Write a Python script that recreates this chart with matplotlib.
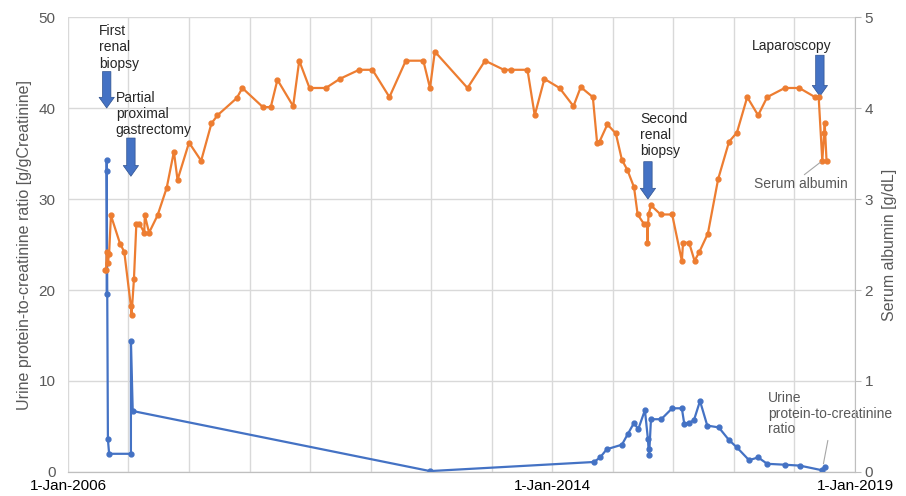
import matplotlib
matplotlib.use("Agg")
import matplotlib.pyplot as plt

# Urine protein-to-creatinine ratio [g/gCreatinine], x in decimal years
upcr_t = [2006.64, 2006.64, 2006.64, 2006.66, 2006.68, 2007.04, 2007.04, 2007.07,
          2011.98, 2014.69, 2014.79, 2014.90, 2015.15, 2015.25, 2015.35, 2015.42,
          2015.53, 2015.58, 2015.59, 2015.60, 2015.63, 2015.80, 2015.98, 2016.14,
          2016.18, 2016.26, 2016.34, 2016.44, 2016.56, 2016.75, 2016.92, 2017.05,
          2017.25, 2017.40, 2017.55, 2017.84, 2018.09, 2018.45, 2018.50]
upcr = [19.6, 34.3, 33.1, 3.6, 2.0, 2.0, 14.4, 6.7,
        0.1, 1.1, 1.6, 2.5, 3.0, 4.2, 5.4, 4.7,
        6.8, 3.6, 2.5, 1.9, 5.8, 5.8, 7.0, 7.0,
        5.3, 5.4, 5.7, 7.8, 5.1, 4.9, 3.5, 2.7,
        1.3, 1.6, 0.9, 0.8, 0.7, 0.2, 0.6]

# Serum albumin [g/dL]
alb_t = [2006.61, 2006.63, 2006.64, 2006.66, 2006.68, 2006.71, 2006.86, 2006.93,
         2007.04, 2007.05, 2007.09, 2007.13, 2007.18, 2007.26, 2007.27, 2007.34,
         2007.48, 2007.63, 2007.75, 2007.81, 2008.00, 2008.20, 2008.37, 2008.47,
         2008.79, 2008.88, 2009.22, 2009.35, 2009.46, 2009.72, 2009.82, 2009.99,
         2010.26, 2010.49, 2010.81, 2011.03, 2011.31, 2011.58, 2011.87, 2011.98,
         2012.06, 2012.60, 2012.89, 2013.20, 2013.31, 2013.59, 2013.71, 2013.87,
         2014.12, 2014.35, 2014.47, 2014.67, 2014.74, 2014.78, 2014.91, 2015.05,
         2015.15, 2015.24, 2015.35, 2015.41, 2015.51, 2015.57, 2015.57, 2015.59,
         2015.63, 2015.79, 2015.98, 2016.14, 2016.16, 2016.26, 2016.35, 2016.43,
         2016.57, 2016.74, 2016.92, 2017.05, 2017.22, 2017.40, 2017.55, 2017.84,
         2018.08, 2018.34, 2018.40, 2018.46, 2018.49, 2018.50, 2018.53]
albumin = [2.22, 2.22, 2.42, 2.30, 2.40, 2.82, 2.51, 2.42,
           1.82, 1.72, 2.12, 2.73, 2.73, 2.63, 2.82, 2.63,
           2.82, 3.12, 3.52, 3.21, 3.62, 3.42, 3.83, 3.92,
           4.11, 4.22, 4.01, 4.01, 4.31, 4.02, 4.52, 4.22,
           4.22, 4.32, 4.42, 4.42, 4.12, 4.52, 4.52, 4.22,
           4.62, 4.22, 4.52, 4.42, 4.42, 4.42, 3.92, 4.32,
           4.22, 4.02, 4.23, 4.12, 3.62, 3.63, 3.82, 3.72,
           3.43, 3.32, 3.13, 2.83, 2.73, 2.73, 2.52, 2.83,
           2.93, 2.83, 2.83, 2.32, 2.52, 2.52, 2.32, 2.42,
           2.62, 3.22, 3.63, 3.73, 4.12, 3.92, 4.12, 4.22,
           4.22, 4.12, 4.12, 3.42, 3.72, 3.83, 3.42]

tick_years = [2006, 2014, 2019]
tick_labels = ["1-Jan-2006", "1-Jan-2014", "1-Jan-2019"]

# events: (label, text x, text top, arrow x, arrow top, arrow tip) on the left scale
events = [
    ("First\nrenal\nbiopsy", 2006.51, 49.2, 2006.64, 44.0, 40.0),
    ("Partial\nproximal\ngastrectomy", 2006.79, 41.9, 2007.04, 36.7, 32.5),
    ("Second\nrenal\nbiopsy", 2015.45, 39.6, 2015.58, 34.1, 30.0),
    ("Laparoscopy", 2017.30, 47.6, 2018.42, 45.8, 41.3),
]

BLUE = "#4472C4"
ORANGE = "#ED7D31"
GREY = "#595959"

plt.rcParams["font.family"] = ["Liberation Sans", "DejaVu Sans"]

fig = plt.figure(figsize=(9.06, 4.96), dpi=100)
ax = fig.add_axes([0.075, 0.0484, 0.8687, 0.9173])
ax2 = ax.twinx()

ax.plot(upcr_t, upcr, color=BLUE, lw=1.6, marker="o", ms=3.5, zorder=3)
ax2.plot(alb_t, albumin, color=ORANGE, lw=1.6, marker="o", ms=3.5, zorder=3)

ax.set_xlim(2006, 2019)
ax.set_ylim(0, 50)
ax2.set_ylim(0, 5)

ax.set_xticks(tick_years)
ax.set_xticklabels(tick_labels)
ax.set_xticks(range(2007, 2019), minor=True)
ax.set_yticks(range(0, 51, 10))
ax2.set_yticks(range(0, 6))

ax.grid(True, which="both", axis="x", color="#D9D9D9", lw=1)
ax.grid(True, axis="y", color="#D9D9D9", lw=1)
ax.set_axisbelow(True)

for a in (ax, ax2):
    for side in ("top", "left", "right"):
        a.spines[side].set_visible(False)
    a.spines["bottom"].set_color("#BFBFBF")
ax2.spines["right"].set_visible(True)
ax2.spines["right"].set_color("#BFBFBF")

ax.tick_params(axis="y", length=0, labelsize=11, labelcolor=GREY, pad=9)
ax.tick_params(axis="x", which="both", length=0, labelsize=11, pad=5)
ax2.tick_params(axis="y", length=4, color="#BFBFBF", labelsize=11,
                labelcolor=GREY, pad=3)

ax.set_ylabel("Urine protein-to-creatinine ratio [g/gCreatinine]",
              fontsize=11.5, color=GREY, labelpad=5)
ax2.set_ylabel("Serum albumin [g/dL]", fontsize=11.5, color=GREY, labelpad=6)

for label, tx, ty, axx, a_top, a_tip in events:
    ax.text(tx, ty, label, fontsize=10, va="top", ha="left",
            linespacing=1.2, color="#262626", zorder=5)
    ax.annotate("", xy=(axx, a_tip), xytext=(axx, a_top), zorder=5,
                arrowprops=dict(arrowstyle="simple,head_length=0.7,head_width=1.0,tail_width=0.55",
                                fc=BLUE, ec="#2F528F", lw=0.5, mutation_scale=11,
                                shrinkA=0, shrinkB=0))

# series labels with leader lines
ax2.annotate("Serum albumin", xy=(2018.46, 3.42), xytext=(2017.33, 3.16),
             fontsize=10, color=GREY, va="center", ha="left",
             arrowprops=dict(arrowstyle="-", color="#A6A6A6", lw=0.8,
                             shrinkA=0, shrinkB=2,
                             relpos=(0.5, 1.0)))
ax.annotate("Urine\nprotein-to-creatinine\nratio", xy=(2018.47, 0.6),
            xytext=(2017.56, 8.9), fontsize=10, color=GREY, va="top", ha="left",
            linespacing=1.15,
            arrowprops=dict(arrowstyle="-", color="#A6A6A6", lw=0.8,
                            shrinkA=1, shrinkB=2, relpos=(0.49, 0.0)))

fig.savefig("out.png", dpi=100)
